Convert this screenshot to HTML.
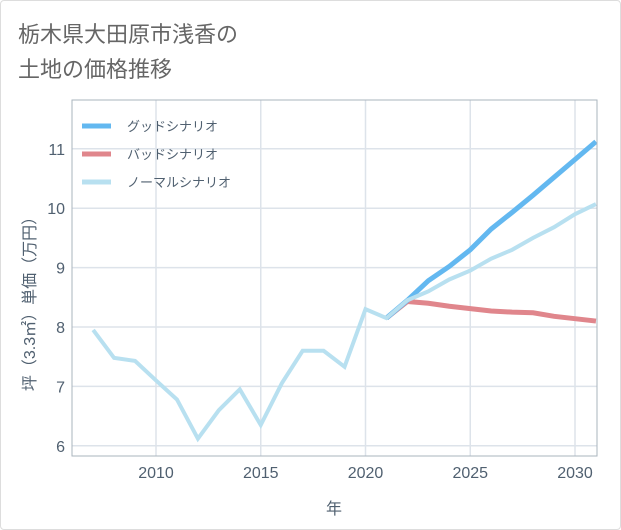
<!DOCTYPE html>
<html><head><meta charset="utf-8"><style>
body{margin:0;background:#fff;font-family:"Liberation Sans","Noto Sans CJK JP",sans-serif;}
#wrap{position:relative;width:619px;height:528px;border:1px solid #ddd;border-radius:4px;background:#fff;}
</style></head><body>
<div id="wrap">
<svg id="c" width="621" height="530" style="position:absolute;left:-1px;top:-1px">
<text x="18" y="42" font-size="22" fill="#666" font-family="Liberation Sans,Noto Sans CJK JP,sans-serif">栃木県大田原市浅香の</text>
<text x="18" y="77" font-size="22" fill="#666" font-family="Liberation Sans,Noto Sans CJK JP,sans-serif">土地の価格推移</text>
<g id="grid"></g><g id="lines"></g><g id="axes"></g>
</svg>
</div>
<script>
const years=[2007,2008,2009,2010,2011,2012,2013,2014,2015,2016,2017,2018,2019,2020,2021,2022,2023,2024,2025,2026,2027,2028,2029,2030,2031];
const normal=[7.95,7.48,7.43,7.1,6.78,6.12,6.6,6.95,6.35,7.05,7.6,7.6,7.33,8.3,8.15,8.45,8.6,8.8,8.95,9.15,9.3,9.5,9.68,9.9,10.07];
const goodYears=[2021,2022,2023,2024,2025,2026,2027,2028,2029,2030,2031];
const good=[8.15,8.45,8.78,9.02,9.3,9.65,9.93,10.22,10.52,10.82,11.12];
const bad=[8.15,8.43,8.4,8.35,8.31,8.27,8.25,8.24,8.18,8.14,8.1];
const xTicks=[2010,2015,2020,2025,2030];
const yTicks=[6,7,8,9,10,11];
const L=72,R=597,T=100,B=456;
const x=v=>156+(v-2010)*20.95;
const y=v=>327-(v-8)*59.4;
const ns="http://www.w3.org/2000/svg";
function mk(tag,parent,attrs){const e=document.createElementNS(ns,tag);for(const k in attrs)e.setAttribute(k,attrs[k]);document.getElementById(parent).appendChild(e);return e;}
xTicks.forEach(t=>{
 const g=mk('line','grid',{x1:x(t),x2:x(t),y1:T,y2:B,stroke:'#dde3ea','stroke-width':1.5});
 
 
 const tx=mk('text','axes',{x:x(t),y:478,'text-anchor':'middle','font-size':16,fill:'#506070'});
 tx.textContent=t;
 
 
});
yTicks.forEach(t=>{
 const g=mk('line','grid',{x1:L,x2:R,y1:y(t),y2:y(t),stroke:'#dde3ea','stroke-width':1.5});
 
 
 const tx=mk('text','axes',{x:65,y:y(t)+6,'text-anchor':'end','font-size':16,fill:'#506070'});
 tx.textContent=t;
 
 
});
const fr=mk('rect','axes',{x:L,y:T,width:R-L,height:B-T,fill:'none',stroke:'#aab4be','stroke-width':1});


const xt=mk('text','axes',{x:334,y:514,'text-anchor':'middle','font-size':16,fill:'#506070'});
xt.textContent='年';


const yt=mk('text','axes',{x:0,y:0,'text-anchor':'middle','font-size':16,fill:'#506070',transform:'translate(35,300) rotate(-90)'});
yt.textContent='坪（3.3㎡）単価（万円）';


function pts(xs,ys){return xs.map((v,i)=>x(v)+','+y(ys[i])).join(' ');}
const clip=mk('clipPath','lines',{id:'cl'});
const cr=document.createElementNS(ns,'rect');cr.setAttribute('x',L);cr.setAttribute('y',T);cr.setAttribute('width',R-L);cr.setAttribute('height',B-T);clip.appendChild(cr);
const pb=mk('polyline','lines',{points:pts(goodYears,bad),fill:'none',stroke:'#e0868c','stroke-width':5,'clip-path':'url(#cl)'});


const pg=mk('polyline','lines',{points:pts(goodYears,good),fill:'none',stroke:'#63b8f0','stroke-width':5,'clip-path':'url(#cl)'});


const pn=mk('polyline','lines',{points:pts(years,normal),fill:'none',stroke:'#b8e0f0','stroke-width':4,'clip-path':'url(#cl)'});


const leg=[['グッドシナリオ','#63b8f0'],['バッドシナリオ','#e0868c'],['ノーマルシナリオ','#b8e0f0']];
leg.forEach((d,i)=>{
 const yy=126+i*28;
 const l=mk('line','axes',{x1:82,x2:111,y1:yy,y2:yy,stroke:d[1],'stroke-width':5});
 
 
 const t=mk('text','axes',{x:127,y:yy+5,'font-size':13,fill:'#506070'});
 t.textContent=d[0];
 
 
});
</script>
</body></html>
